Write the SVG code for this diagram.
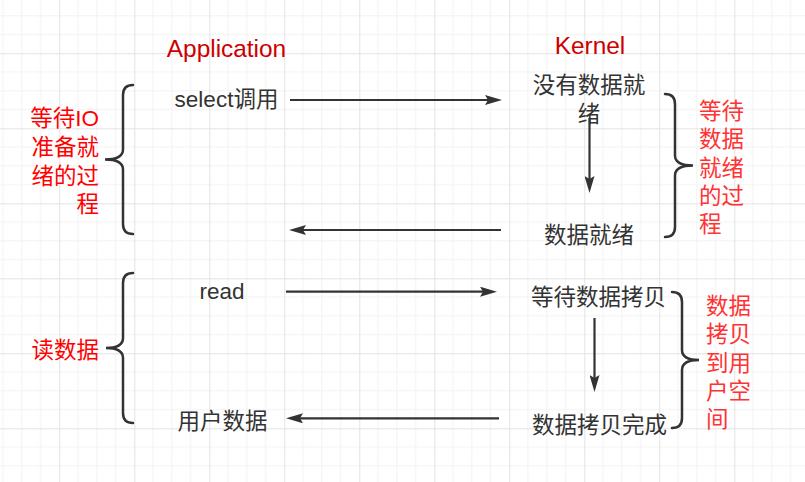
<svg xmlns="http://www.w3.org/2000/svg" width="805" height="482" viewBox="0 0 805 482">
<defs>
<pattern id="grid" patternUnits="userSpaceOnUse" x="59.3" y="53.3" width="75" height="75">
<path d="M18.75,0V75M37.5,0V75M56.25,0V75M0,18.75H75M0,37.5H75M0,56.25H75" stroke="#f2f2f2" stroke-width="1" fill="none"/>
<path d="M0.5,0V75M0,0.5H75" stroke="#e3e3e3" stroke-width="1" fill="none"/>
</pattern>
<marker id="arr" viewBox="0 0 17 10" refX="9" refY="5" markerWidth="17" markerHeight="10" markerUnits="userSpaceOnUse" orient="auto">
<path d="M0,0 L17,5 L0,10 L3,5 Z" fill="#333333"/>
</marker>
</defs>
<style>
.t{font-family:"Liberation Sans","Noto Sans CJK SC",sans-serif;font-size:22.5px;fill:#333333}
.title{font-family:"Liberation Sans","Noto Sans CJK SC",sans-serif;font-size:24.4px;fill:#cc0000;text-anchor:middle}
.lbl{font-family:"Liberation Sans","Noto Sans CJK SC",sans-serif;font-size:22.5px;fill:#ff0000}
.rlbl{font-family:"Liberation Sans","Noto Sans CJK SC",sans-serif;font-size:22.5px;fill:#ff3333}
.m{text-anchor:middle}
.e{text-anchor:end}
.brace{fill:none;stroke:#333333;stroke-width:2.5;stroke-linecap:round}
.c{fill:none;stroke:#333333;stroke-width:2.2}
</style>
<rect width="805" height="482" fill="#ffffff"/>
<rect width="805" height="482" fill="url(#grid)"/>

<g id="title-application"><text class="title" x="226.5" y="57">Application</text></g>
<g id="title-kernel"><text class="title" x="590" y="54">Kernel</text></g>

<g id="node-select"><text class="t m" x="226.5" y="107">select调用</text></g>
<g id="node-no-data"><text class="t m" x="589" y="92.5">没有数据就</text><text class="t m" x="589" y="121.5">绪</text></g>
<g id="node-data-ready"><text class="t m" x="589" y="243">数据就绪</text></g>
<g id="node-read"><text class="t m" x="222" y="299">read</text></g>
<g id="node-wait-copy"><text class="t m" x="598.5" y="304.5">等待数据拷贝</text></g>
<g id="node-copy-done"><text class="t m" x="599.5" y="432.5">数据拷贝完成</text></g>
<g id="node-user-data"><text class="t m" x="222.5" y="428.5">用户数据</text></g>

<g id="brace-left-1"><path class="brace" d="M133,85 Q123,85 123,95 L123,149.5 Q123,159.5 105,159.5 Q123,159.5 123,169.5 L123,224 Q123,234 133,234"/></g>
<g id="label-left-1">
<text class="lbl e" x="99" y="125.5">等待IO</text>
<text class="lbl e" x="99" y="154.5">准备就</text>
<text class="lbl e" x="99" y="183.5">绪的过</text>
<text class="lbl e" x="99" y="211.5">程</text>
</g>
<g id="brace-left-2"><path class="brace" d="M133,273 Q123,273 123,283 L123,338 Q123,348 106,348 Q123,348 123,358 L123,413 Q123,423 133,423"/></g>
<g id="label-left-2"><text class="lbl e" x="99" y="357.5">读数据</text></g>

<g id="brace-right-1"><path class="brace" d="M665,94 Q675,94 675,104 L675,155.5 Q675,165.5 693,165.5 Q675,165.5 675,175.5 L675,227 Q675,237 665,237"/></g>
<g id="label-right-1">
<text class="rlbl" x="699" y="118.5">等待</text>
<text class="rlbl" x="699" y="146.5">数据</text>
<text class="rlbl" x="699" y="175.5">就绪</text>
<text class="rlbl" x="699" y="203.5">的过</text>
<text class="rlbl" x="699" y="231.5">程</text>
</g>
<g id="brace-right-2"><path class="brace" d="M672,292 Q682,292 682,302 L682,350 Q682,360 699,360 Q682,360 682,370 L682,418 Q682,428 672,428"/></g>
<g id="label-right-2">
<text class="rlbl" x="706" y="313.5">数据</text>
<text class="rlbl" x="706" y="341.5">拷贝</text>
<text class="rlbl" x="706" y="370.5">到用</text>
<text class="rlbl" x="706" y="398.5">户空</text>
<text class="rlbl" x="706" y="426.5">间</text>
</g>

<g id="connectors">
<line class="c" x1="290" y1="100" x2="494" y2="100" marker-end="url(#arr)"/>
<line class="c" x1="589.5" y1="118" x2="589.5" y2="185" marker-end="url(#arr)"/>
<line class="c" x1="501" y1="230" x2="297" y2="230" marker-end="url(#arr)"/>
<line class="c" x1="286" y1="291.7" x2="489" y2="291.7" marker-end="url(#arr)"/>
<line class="c" x1="594.5" y1="318" x2="594.5" y2="384" marker-end="url(#arr)"/>
<line class="c" x1="499" y1="418.3" x2="294" y2="418.3" marker-end="url(#arr)"/>
</g>
</svg>
